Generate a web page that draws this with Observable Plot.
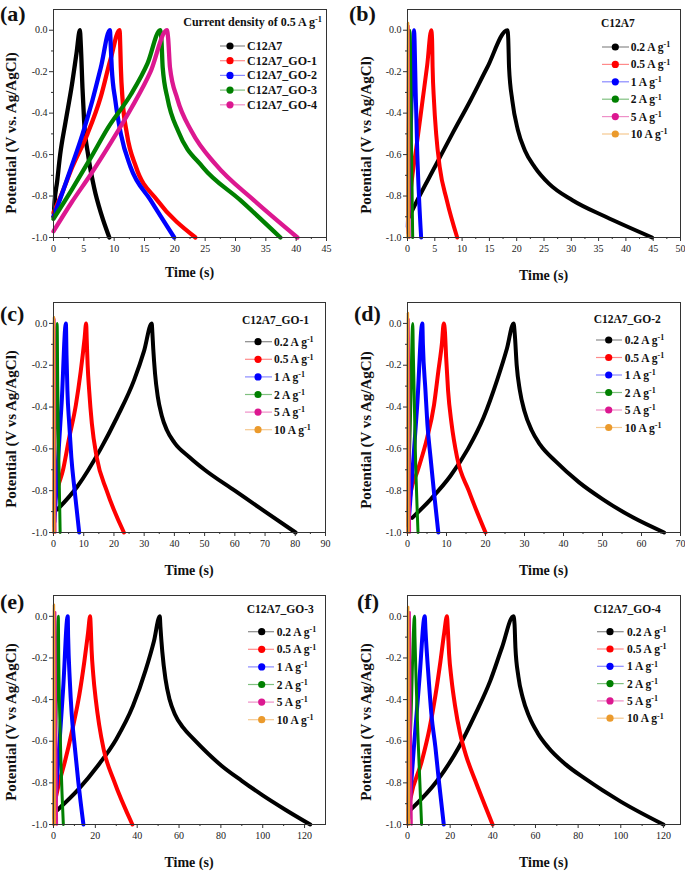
<!DOCTYPE html>
<html><head><meta charset="utf-8">
<script src="https://cdn.jsdelivr.net/npm/d3@7"></script>
<script src="https://cdn.jsdelivr.net/npm/@observablehq/plot@0.6"></script>
<style>
body{margin:0;background:#fff;}
#root{position:relative;width:685px;height:871px;overflow:hidden;background:#fff;}
.panel{position:absolute;}
</style></head><body><div id="root"></div>
<script>
// ---------- DATA (time s, potential V) ----------
// (a) current density 0.5 A/g, five materials
const a_C12A7 = [[0.05,-0.9],[0.15,-0.84],[0.6,-0.73],[1.1,-0.6],[2.0,-0.44],[3.0,-0.27],[3.8,-0.11],[4.35,0],[4.5,-0.07],[4.78,-0.28],[5.05,-0.44],[5.7,-0.6],[6.7,-0.76],[7.9,-0.89],[9.2,-1.0]];
const a_GO1 = [[0,-0.88],[1.2,-0.8],[3.1,-0.66],[5.6,-0.5],[7.8,-0.32],[9.4,-0.14],[10.9,0],[11.0,-0.075],[11.1,-0.18],[11.4,-0.34],[12.1,-0.5],[13.6,-0.66],[17.1,-0.82],[23.4,-1.0]];
const a_GO2 = [[0,-0.9],[0.9,-0.83],[2.7,-0.68],[4.8,-0.5],[6.4,-0.34],[7.8,-0.18],[9.3,0],[9.4,-0.05],[9.6,-0.18],[10.2,-0.34],[11.1,-0.5],[12.7,-0.66],[16.0,-0.82],[19.9,-1.0]];
const a_GO3 = [[0,-0.91],[3,-0.77],[6.15,-0.615],[9,-0.47],[12.75,-0.31],[15.5,-0.16],[17.6,0],[17.8,-0.05],[18.0,-0.18],[18.8,-0.33],[20.6,-0.49],[24.6,-0.66],[30.8,-0.82],[37.4,-1.0]];
const a_GO4 = [[0,-0.97],[3,-0.83],[6.15,-0.695],[9.5,-0.54],[12.75,-0.38],[16,-0.2],[18.7,0],[18.9,-0.04],[19.2,-0.18],[20.4,-0.33],[22.8,-0.49],[26.8,-0.65],[33.0,-0.82],[40.2,-1.0]];
// (b) C12A7 at 0.2, 0.5, 1, 2, 5, 10 A/g
const b_02 = [[0.3,-0.9],[1.8,-0.82],[5,-0.66],[8.2,-0.5],[11.5,-0.34],[14.6,-0.18],[18.3,0],[18.45,-0.04],[18.6,-0.18],[19.2,-0.34],[20.2,-0.48],[21.5,-0.58],[23.3,-0.66],[25.9,-0.74],[30.2,-0.82],[36.3,-0.9],[44.8,-1.0]];
const b_05 = [[0.1,-0.9],[0.9,-0.7],[1.6,-0.57],[2.8,-0.33],[3.6,-0.17],[4.35,0],[4.5,-0.04],[4.6,-0.18],[4.85,-0.34],[5.25,-0.5],[5.9,-0.66],[7.2,-0.82],[9.1,-1.0]];
const b_1 = [[0.05,-0.95],[0.4,-0.65],[0.8,-0.3],[1.2,0],[1.3,-0.05],[1.5,-0.3],[1.8,-0.6],[2.1,-0.8],[2.5,-1.0]];
const b_2 = [[0,-0.95],[0.45,0],[0.55,-0.1],[0.7,-0.5],[0.95,-1.0]];
const b_5 = [[0,-0.98],[0.18,0.02],[0.25,-0.3],[0.35,-1.0]];
const b_10 = [[0,-1.0],[0.1,0.035],[0.15,-0.4],[0.2,-1.0]];
// (c) C12A7_GO-1
const c_02 = [[1.3,-0.89],[7.9,-0.78],[15.6,-0.6],[21,-0.45],[26.7,-0.27],[30,-0.13],[32.5,0],[32.7,-0.04],[33.0,-0.12],[33.6,-0.24],[34.5,-0.35],[35.8,-0.44],[37.5,-0.51],[40,-0.57],[45,-0.64],[50,-0.7],[60,-0.8],[70,-0.9],[80.1,-1.0]];
const c_05 = [[0.3,-0.86],[1.5,-0.78],[3,-0.71],[5.15,-0.55],[7.4,-0.39],[9,-0.23],[10.3,-0.07],[10.8,0],[11.0,-0.08],[11.3,-0.2],[11.8,-0.32],[12.7,-0.48],[14.3,-0.64],[17.6,-0.8],[23.3,-1.0]];
const c_1 = [[0.3,-0.95],[1.3,-0.7],[2.7,-0.38],[4.1,0],[4.3,-0.15],[4.6,-0.32],[5.2,-0.48],[5.9,-0.64],[7.0,-0.8],[8.5,-1.0]];
const c_2 = [[0.05,-0.97],[0.6,-0.5],[1.2,0],[1.4,-0.3],[1.7,-0.6],[2.2,-1.0]];
const c_5 = [[0,-1.0],[0.3,0.02],[0.45,-0.4],[0.6,-1.0]];
const c_10 = [[0,-1.0],[0.15,0.03],[0.22,-0.4],[0.3,-1.0]];
// (d) C12A7_GO-2
const d_02 = [[1.2,-0.93],[6,-0.84],[11,-0.73],[15.5,-0.6],[19.5,-0.45],[23,-0.27],[25.5,-0.12],[27.2,0],[27.5,-0.05],[28,-0.2],[28.8,-0.32],[30,-0.42],[31.8,-0.51],[34,-0.58],[38,-0.66],[44,-0.76],[50,-0.84],[58,-0.93],[65.8,-1.0]];
const d_05 = [[0.2,-0.9],[0.8,-0.81],[2.5,-0.71],[5,-0.55],[6.8,-0.39],[7.9,-0.23],[8.8,-0.1],[9.3,0],[9.6,-0.04],[9.9,-0.16],[10.4,-0.32],[11.3,-0.48],[12.7,-0.64],[15.7,-0.8],[20.0,-1.0]];
const d_1 = [[0.3,-0.95],[1.3,-0.7],[2.5,-0.39],[3.8,0],[3.95,-0.1],[4.6,-0.32],[5.1,-0.48],[5.9,-0.64],[6.75,-0.8],[7.9,-1.0]];
const d_2 = [[0,-0.97],[0.7,-0.5],[1.35,0],[1.5,-0.15],[2.0,-0.6],[2.7,-1.0]];
const d_5 = [[0,-1.0],[0.25,0.02],[0.4,-0.4],[0.6,-1.0]];
const d_10 = [[0,-1.0],[0.1,0.05],[0.17,-0.4],[0.25,-1.0]];
// (e) C12A7_GO-3
const e_02 = [[1.9,-0.93],[12,-0.83],[21,-0.72],[30,-0.59],[38,-0.43],[44,-0.26],[48,-0.12],[50.8,0],[51.1,-0.05],[52,-0.17],[53.5,-0.3],[55.5,-0.4],[58,-0.47],[62,-0.535],[67,-0.59],[80,-0.715],[90,-0.79],[100,-0.86],[111,-0.93],[122.7,-1.0]];
const e_05 = [[0.5,-0.9],[2.7,-0.8],[5.4,-0.7],[9.1,-0.54],[12.3,-0.38],[14.7,-0.22],[16.5,-0.08],[17.5,0],[17.8,-0.05],[18.2,-0.16],[19,-0.28],[20.2,-0.4],[21.8,-0.52],[24,-0.64],[28.9,-0.79],[37.7,-1.0]];
const e_1 = [[0.5,-0.95],[2.5,-0.66],[4.6,-0.35],[6.8,0],[7.0,-0.1],[7.8,-0.31],[8.7,-0.47],[10.2,-0.63],[11.8,-0.79],[14.3,-1.0]];
const e_2 = [[0,-0.97],[1.2,-0.5],[2.3,0],[2.5,-0.2],[3.3,-0.6],[4.7,-1.0]];
const e_5 = [[0,-1.0],[0.8,0.02],[1.1,-0.4],[1.6,-1.0]];
const e_10 = [[0,-1.0],[0.2,0.055],[0.4,-0.4],[0.6,-1.0]];
// (f) C12A7_GO-4
const f_02 = [[1.4,-0.93],[13.9,-0.79],[24,-0.63],[31.8,-0.47],[38.8,-0.31],[44.3,-0.15],[49.7,0],[50.2,-0.04],[50.6,-0.15],[52,-0.29],[54,-0.39],[57,-0.48],[61,-0.56],[66,-0.63],[74,-0.71],[83.3,-0.78],[100,-0.89],[120,-1.0]];
const f_05 = [[0.5,-0.93],[1.4,-0.875],[6.6,-0.7],[10.3,-0.54],[13.1,-0.38],[15.4,-0.22],[17.2,-0.08],[18.5,0],[18.9,-0.06],[19.5,-0.18],[20.6,-0.3],[22.3,-0.43],[24.6,-0.56],[27.5,-0.67],[31.8,-0.79],[39.9,-1.0]];
const f_1 = [[0.5,-0.97],[3,-0.63],[5.6,-0.3],[8.1,0],[8.4,-0.06],[10,-0.31],[11.2,-0.47],[13.1,-0.63],[14.7,-0.79],[17.0,-1.0]];
const f_2 = [[0,-0.98],[1.6,-0.5],[3.3,0],[3.5,-0.1],[4.0,-0.3],[5.0,-0.6],[6.6,-1.0]];
const f_5 = [[0,-1.0],[1.0,0.02],[1.3,-0.4],[1.9,-1.0]];
const f_10 = [[0,-1.0],[0.3,0.045],[0.5,-0.4],[0.7,-1.0]];

// ---------- LABELS & TICKS ----------
const materialLabels = ["C12A7","C12A7_GO-1","C12A7_GO-2","C12A7_GO-3","C12A7_GO-4"];
const rateLabels = ["0.2","0.5","1","2","5","10"];
const panelLetters = ["(a)","(b)","(c)","(d)","(e)","(f)"];
const titleA = "Current density of 0.5 A g";
const yLabelA = "Potential (V vs. Ag/AgCl)";
const yLabelOther = "Potential (V vs Ag/AgCl)";
const xLabel = "Time (s)";
const yTicks = [-1.0,-0.8,-0.6,-0.4,-0.2,0.0];
const yMinor = [-0.9,-0.7,-0.5,-0.3,-0.1];
const xTicksA = [0,5,10,15,20,25,30,35,40,45];
const xMinorA = [2.5,7.5,12.5,17.5,22.5,27.5,32.5,37.5,42.5];
const xTicksB = [0,5,10,15,20,25,30,35,40,45,50];
const xMinorB = [2.5,7.5,12.5,17.5,22.5,27.5,32.5,37.5,42.5,47.5];
const xTicksC = [0,10,20,30,40,50,60,70,80,90];
const xMinorC = [5,15,25,35,45,55,65,75,85];
const xTicksD = [0,10,20,30,40,50,60,70];
const xMinorD = [5,15,25,35,45,55,65];
const xTicksE = [0,20,40,60,80,100,120];
const xMinorE = [10,30,50,70,90,110];

// ---------- STYLE ----------
const SERIF = "'Liberation Serif','Times New Roman',Times,serif";
const seriesColors = ["#000000","#ff0000","#0000ff","#008000","#dc1890","#eb9a2c"];
const legendLineColors = ["#8a8a8a","#ff8a8a","#8a8aff","#80c080","#ee90c8","#f5c990"];

const panels = [
  {left:0, top:0, w:342, h:290, m:[9,16,53,53], xd:[0,45], xt:xTicksA, xm:xMinorA, series:[a_C12A7,a_GO1,a_GO2,a_GO3,a_GO4], widths:[4.3,4.3,4.3,4.3,4.3],
   labels:materialLabels, rate:false, yLabel:yLabelA, yl:[15.5,133], xlY:277, letter:[0,20.5],
   leg:{title:titleA, sup:"-1", tx:322, ty:26, anchor:"end", tsize:12, y0:46, dy:14.7, lx0:220, lx1:245, dx:230, textX:247, size:12}},
  {left:342, top:0, w:343, h:290, m:[9,5,53,65], xd:[0,50], xt:xTicksB, xm:xMinorB, series:[b_02,b_05,b_1,b_2,b_5,b_10], widths:[4,4,4,3,2.5,2.5],
   labels:rateLabels, rate:true, yLabel:yLabelOther, yl:[29,135], xlY:280, letter:[7,20.5],
   leg:{title:"C12A7", sup:null, tx:259, ty:27, anchor:"start", tsize:11.5, y0:47, dy:17.4, lx0:260, lx1:287, dx:273.3, textX:288.7, size:11.5}},
  {left:0, top:290, w:342, h:290, m:[12,17,48,53], xd:[0,90], xt:xTicksC, xm:xMinorC, series:[c_02,c_05,c_1,c_2,c_5,c_10], widths:[4,4,4,3,2.5,2.5],
   labels:rateLabels, rate:true, yLabel:yLabelOther, yl:[15.5,139], xlY:285, letter:[0,31],
   leg:{title:"C12A7_GO-1", sup:null, tx:242, ty:34, anchor:"start", tsize:11.5, y0:51.7, dy:17.6, lx0:245, lx1:272, dx:258, textX:274, size:11.5}},
  {left:342, top:290, w:343, h:290, m:[12,5,48,65], xd:[0,70], xt:xTicksD, xm:xMinorD, series:[d_02,d_05,d_1,d_2,d_5,d_10], widths:[4,4,4,3,2.5,2.5],
   labels:rateLabels, rate:true, yLabel:yLabelOther, yl:[29,140], xlY:285, letter:[12,31],
   leg:{title:"C12A7_GO-2", sup:null, tx:251.7, ty:33, anchor:"start", tsize:11.5, y0:50, dy:17.5, lx0:254, lx1:280, dx:266.7, textX:282.7, size:11.5}},
  {left:0, top:580, w:342, h:291, m:[15,17,47,53], xd:[0,130], xt:xTicksE, xm:xMinorE, series:[e_02,e_05,e_1,e_2,e_5,e_10], widths:[4,4,4,3,2.5,2.5],
   labels:rateLabels, rate:true, yLabel:yLabelOther, yl:[15.5,142], xlY:286.7, letter:[0,29],
   leg:{title:"C12A7_GO-3", sup:null, tx:246.7, ty:33, anchor:"start", tsize:11.5, y0:51.7, dy:17.6, lx0:248, lx1:274, dx:261.7, textX:276.7, size:11.5}},
  {left:342, top:580, w:343, h:291, m:[15,5,47,65], xd:[0,128], xt:xTicksE, xm:xMinorE, series:[f_02,f_05,f_1,f_2,f_5,f_10], widths:[4,4,4,3,2.5,2.5],
   labels:rateLabels, rate:true, yLabel:yLabelOther, yl:[29,142], xlY:286.7, letter:[15,29],
   leg:{title:"C12A7_GO-4", sup:null, tx:251.7, ty:33, anchor:"start", tsize:11.5, y0:51.7, dy:17.3, lx0:255, lx1:281.7, dx:268, textX:285, size:11.5}}
];

const root = document.getElementById("root");

panels.forEach((p, pi) => {
  const [mt, mr, mb, ml] = p.m;
  const svg = Plot.plot({
    width: p.w, height: p.h,
    marginTop: mt, marginRight: mr, marginBottom: mb, marginLeft: ml,
    style: {fontFamily: SERIF, fontSize: "10px", color: "#222", background: "white", overflow: "visible"},
    x: {domain: p.xd, label: null},
    y: {domain: [-1.0, 0.1], label: null},
    marks: [
      ...p.series.map((s, i) => Plot.line(s, {
        x: d => d[0], y: d => d[1], stroke: seriesColors[i], strokeWidth: p.widths[i],
        curve: "monotone-x", strokeLinecap: "round", strokeLinejoin: "round"
      })),
      Plot.frame({stroke: "#333", strokeWidth: 1}),
      Plot.axisX({ticks: p.xt, tickSize: 4, tickPadding: 3, tickFormat: d => String(d), label: null, stroke: "#333"}),
      Plot.axisX({ticks: p.xm, tickSize: 2, tickFormat: () => "", label: null, stroke: "#333"}),
      Plot.axisY({ticks: yTicks, tickSize: 4, tickPadding: 2, tickFormat: d => d.toFixed(1), label: null, stroke: "#333"}),
      Plot.axisY({ticks: yMinor, tickSize: 2, tickFormat: () => "", label: null, stroke: "#333"})
    ]
  });
  const holder = document.createElement("div");
  holder.className = "panel";
  holder.style.left = p.left + "px";
  holder.style.top = p.top + "px";
  holder.appendChild(svg);
  root.appendChild(holder);

  const g = d3.select(svg).append("g").attr("font-family", SERIF).attr("fill", "#111").attr("text-anchor", "start");
  // panel letter
  g.append("text").attr("x", p.letter[0]).attr("y", p.letter[1]).attr("text-anchor", "start")
    .attr("font-size", 22).attr("font-weight", "bold").text(panelLetters[pi]);
  // axis titles
  const frameCX = ml + (p.w - ml - mr) / 2;
  g.append("text").attr("x", frameCX).attr("y", p.xlY).attr("text-anchor", "middle")
    .attr("font-size", 14).attr("font-weight", "bold").text(xLabel);
  g.append("text").attr("transform", `translate(${p.yl[0]},${p.yl[1]}) rotate(-90)`)
    .attr("text-anchor", "middle").attr("font-size", 15).attr("font-weight", "bold").text(p.yLabel);
  // legend
  const L = p.leg;
  const t = g.append("text").attr("x", L.tx).attr("y", L.ty).attr("text-anchor", L.anchor)
    .attr("font-size", L.tsize).attr("font-weight", "bold");
  t.append("tspan").text(L.title);
  if (L.sup) t.append("tspan").attr("dy", "-0.45em").attr("font-size", "70%").text(L.sup);
  p.labels.forEach((lab, i) => {
    const y = L.y0 + i * L.dy;
    g.append("line").attr("x1", L.lx0).attr("x2", L.lx1).attr("y1", y).attr("y2", y)
      .attr("stroke", legendLineColors[i]).attr("stroke-width", 1.2);
    g.append("circle").attr("cx", L.dx).attr("cy", y).attr("r", 3.6).attr("fill", seriesColors[i]);
    const tx = g.append("text").attr("x", L.textX).attr("y", y + 4).attr("text-anchor", "start")
      .attr("font-size", L.size).attr("font-weight", "bold");
    if (p.rate) {
      tx.append("tspan").text(lab + " A g");
      tx.append("tspan").attr("dy", "-0.45em").attr("font-size", "70%").text("-1");
    } else {
      tx.text(lab);
    }
  });
});
</script></body></html>
